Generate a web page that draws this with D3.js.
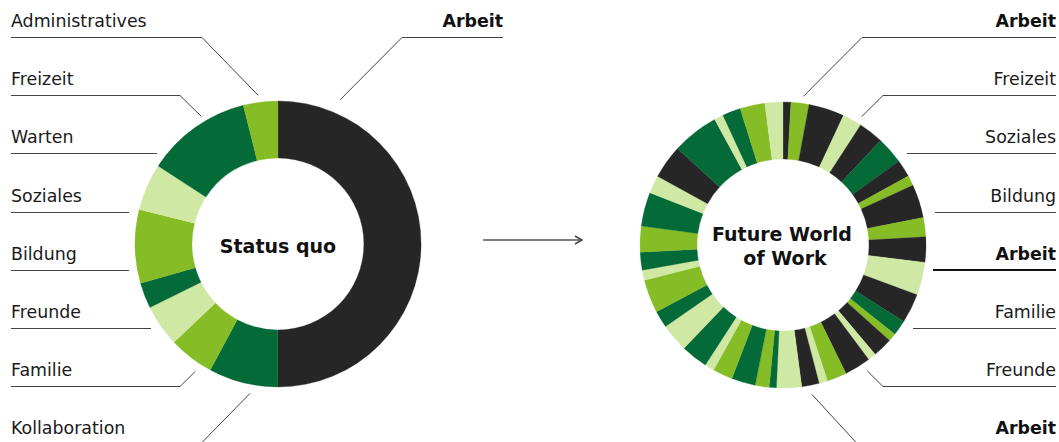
<!DOCTYPE html>
<html>
<head>
<meta charset="utf-8">
<script src="https://cdn.jsdelivr.net/npm/d3@7"></script>
<style>
  html, body { margin: 0; padding: 0; background: #fff; }
  svg { display: block; font-family: "DejaVu Sans", Verdana, sans-serif; }
</style>
</head>
<body>
<svg id="chart" width="1059" height="442"></svg>
<script>
// Status quo: share of the working day per activity (%), clockwise from 12 o'clock
const statusCategories = ["Arbeit", "Kollaboration", "Familie", "Freunde", "Bildung", "Soziales", "Warten", "Freizeit", "Administratives"];
const statusValues     = [50, 7.8, 5.1, 4.7, 2.9, 8.3, 5.3, 11.9, 3.9];
const statusShades     = ["work", "dark", "mid", "pale", "dark", "mid", "pale", "dark", "mid"];

// Future World of Work: work and life interleaved in short slices (%), clockwise from 12 o'clock
const futureShades = [
  "work", "mid", "work", "pale", "work", "dark", "work", "mid", "work", "mid",
  "work", "pale", "work", "dark", "mid", "work", "pale", "work", "mid", "pale",
  "work", "pale", "dark", "mid", "dark", "mid", "pale", "dark", "pale", "dark",
  "mid", "pale", "dark", "mid", "dark", "pale", "work", "dark", "pale", "dark",
  "mid", "pale"
];
const futureValues = [
  0.89, 2.03, 4.03, 2.19, 2.81, 3.08, 1.97, 1.14, 3.78, 2.17,
  2.86, 3.72, 3.33, 1.72, 0.92, 2.22, 0.92, 2.97, 2.22, 0.97,
  1.97, 2.83, 0.81, 1.58, 2.69, 2.25, 1.08, 3.03, 3.17, 1.94,
  3.75, 1.14, 2.03, 2.92, 3.83, 2.03, 3.81, 5.28, 1.03, 2.06,
  2.81, 2.03
];

// Legend rows
const statusLeftLabels  = ["Administratives", "Freizeit", "Warten", "Soziales", "Bildung", "Freunde", "Familie", "Kollaboration"];
const statusRightLabel  = "Arbeit";
const futureRightLabels = ["Arbeit", "Freizeit", "Soziales", "Bildung", "Arbeit", "Familie", "Freunde", "Arbeit"];

const shadeColor = d3.scaleOrdinal()
  .domain(["work", "dark", "mid", "pale"])
  .range(["#262626", "#046a38", "#86bc25", "#cfe8a3"]);

const svg = d3.select("#chart");
const R_OUT = 143, R_IN = 86;
const status = { cx: 278, cy: 244 };
const future = { cx: 783, cy: 245 };

const pie = d3.pie().sort(null).value(d => d.value);
const arc = d3.arc().innerRadius(R_IN).outerRadius(R_OUT);

function donut(center, values, shades, names) {
  const rows = values.map((v, i) => ({ value: v, shade: shades[i], name: names ? names[i] : shades[i] }));
  const g = svg.append("g").attr("transform", `translate(${center.cx},${center.cy})`);
  g.selectAll("path")
    .data(pie(rows))
    .join("path")
    .attr("d", arc)
    .attr("fill", d => shadeColor(d.data.shade))
    .attr("stroke", d => shadeColor(d.data.shade))
    .attr("stroke-width", 0.3);
  return g;
}

donut(status, statusValues, statusShades, statusCategories);
donut(future, futureValues, futureShades, null);

// Centre titles
svg.append("text")
  .attr("x", status.cx).attr("y", 253)
  .attr("text-anchor", "middle")
  .attr("font-size", 19).attr("font-weight", "bold").attr("fill", "#111")
  .text("Status quo");
const ft = svg.append("text")
  .attr("text-anchor", "middle")
  .attr("font-size", 19).attr("font-weight", "bold").attr("fill", "#111");
ft.append("tspan").attr("x", future.cx - 1).attr("y", 240.5).text("Future World");
ft.append("tspan").attr("x", future.cx + 2).attr("y", 265).text("of Work");

// Arrow between the two states
const defs = svg.append("defs");
defs.append("marker")
  .attr("id", "chev").attr("viewBox", "0 0 10 10")
  .attr("refX", 9).attr("refY", 5)
  .attr("markerWidth", 10).attr("markerHeight", 10)
  .attr("markerUnits", "userSpaceOnUse")
  .attr("orient", "auto")
  .append("path").attr("d", "M2,1 L9,5 L2,9")
  .attr("fill", "none").attr("stroke", "#444").attr("stroke-width", 1.6);
svg.append("line")
  .attr("x1", 483).attr("x2", 582).attr("y1", 240).attr("y2", 240)
  .attr("stroke", "#555").attr("stroke-width", 1.6)
  .attr("marker-end", "url(#chev)");

// Label rows with underlines and leader lines
const ROW0 = 27, ROW_STEP = 58.2, UNDER = 10;
const leaders = svg.append("g").attr("fill", "none").attr("stroke", "#444").attr("stroke-width", 1);
const labels = svg.append("g").attr("font-size", 17.4).attr("fill", "#1a1a1a");

function ringPoint(center, angleDeg, gap) {
  const a = angleDeg * Math.PI / 180, r = R_OUT + gap;
  return [center.cx + r * Math.sin(a), center.cy - r * Math.cos(a)];
}

// left column for Status quo: [underline end x, pointer angle, pointer gap]
const leftLayout = [
  [202, 352.4, 7], [180, 329, 6], [157], [129], [129], [151], [180, 213, 9], [200, 190.6, 9]
];
statusLeftLabels.forEach((name, i) => {
  const y = ROW0 + i * ROW_STEP;
  labels.append("text").attr("x", 11).attr("y", y).text(name);
  const uy = Math.round(y + UNDER) + 0.5;
  const [ex, ang, gap] = leftLayout[i];
  const pts = [[11, uy], [ex, uy]];
  if (ang !== undefined) pts.push(ringPoint(status, ang, gap));
  leaders.append("path").attr("d", d3.line()(pts));
});

// "Arbeit" for Status quo
{
  const y = ROW0;
  labels.append("text").attr("x", 503).attr("y", y).attr("text-anchor", "end")
    .attr("font-weight", "bold").attr("fill", "#111").text(statusRightLabel);
  const uy = Math.round(y + UNDER) + 0.5;
  leaders.append("path").attr("d", d3.line()([[503, uy], [402, uy], ringPoint(status, 23.3, 14)]));
}

// right column for Future World of Work: [underline start x, pointer angle, pointer gap, weight]
const rightLayout = [
  [862, 7.8, 7], [883, 31.5, 7.5], [907], [935], [933, null, null, 2], [913], [883, 146.2, 8.5], [858, 169.1, 9]
];
futureRightLabels.forEach((name, i) => {
  const y = ROW0 + i * ROW_STEP;
  const bold = name === "Arbeit";
  labels.append("text").attr("x", 1056).attr("y", y).attr("text-anchor", "end")
    .attr("font-weight", bold ? "bold" : null).attr("fill", bold ? "#111" : null).text(name);
  const [sx, ang, gap, w] = rightLayout[i];
  const uy = Math.round(y + UNDER) + (w === 2 ? 0 : 0.5);
  const pts = [[1056, uy], [sx, uy]];
  if (ang !== undefined && ang !== null) pts.push(ringPoint(future, ang, gap));
  leaders.append("path").attr("d", d3.line()(pts))
    .attr("stroke-width", w || 1).attr("stroke", w === 2 ? "#111" : null);
});
</script>
</body>
</html>
